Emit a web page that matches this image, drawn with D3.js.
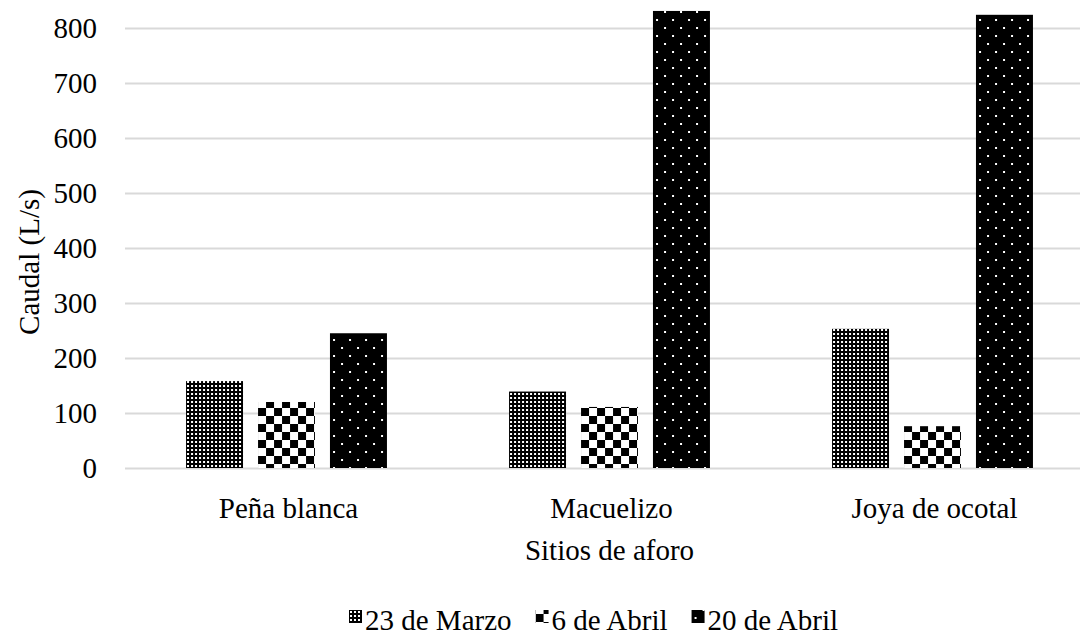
<!DOCTYPE html>
<html>
<head>
<meta charset="utf-8">
<script src="https://cdn.jsdelivr.net/npm/d3@7"></script>
<style>
  html, body { margin: 0; padding: 0; background: #fff; }
  svg { display: block; font-family: "Liberation Serif", "Times New Roman", serif; }
</style>
</head>
<body>
<svg id="chart" width="1080" height="638"></svg>
<script>
// Caudal medido en cada sitio de aforo (L/s)
const sites = ["Peña blanca", "Macuelizo", "Joya de ocotal"];
const dates = ["23 de Marzo", "6 de Abril", "20 de Abril"];
const marzo23 = [158, 139, 253];
const abril6 = [120, 111, 76];
const abril20 = [245, 831, 824];
const yTicks = [0, 100, 200, 300, 400, 500, 600, 700, 800];

const seriesValues = [marzo23, abril6, abril20];
const patternIds = ["pat-grid", "pat-checker", "pat-dots"];

const svg = d3.select("#chart");
const fontSize = 29;

// Relleno de tramas en blanco y negro
const defs = svg.append("defs");

const pGrid = defs.append("pattern").attr("id", "pat-grid")
  .attr("patternUnits", "userSpaceOnUse").attr("width", 4).attr("height", 4);
pGrid.append("rect").attr("width", 4).attr("height", 4).attr("fill", "#000");
pGrid.append("rect").attr("x", 1).attr("y", 1).attr("width", 2).attr("height", 2).attr("fill", "#fff");

const pChecker = defs.append("pattern").attr("id", "pat-checker")
  .attr("patternUnits", "userSpaceOnUse").attr("width", 16).attr("height", 16);
pChecker.append("rect").attr("width", 16).attr("height", 16).attr("fill", "#fff");
pChecker.append("rect").attr("x", 0).attr("y", 0).attr("width", 8).attr("height", 8).attr("fill", "#000");
pChecker.append("rect").attr("x", 8).attr("y", 8).attr("width", 8).attr("height", 8).attr("fill", "#000");

const pDots = defs.append("pattern").attr("id", "pat-dots")
  .attr("patternUnits", "userSpaceOnUse").attr("width", 16).attr("height", 16);
pDots.append("rect").attr("width", 16).attr("height", 16).attr("fill", "#000");
pDots.append("rect").attr("x", 3).attr("y", 3).attr("width", 2).attr("height", 2).attr("fill", "#fff");
pDots.append("rect").attr("x", 11).attr("y", 11).attr("width", 2).attr("height", 2).attr("fill", "#fff");

// Escalas
const plotLeft = 125, plotRight = 1094;
const y = d3.scaleLinear().domain([0, 800]).range([468, 28]);
const x0 = d3.scaleBand().domain(sites).range([plotLeft, plotRight])
  .paddingInner(0.378).paddingOuter(0.189);
const x1 = d3.scaleBand().domain(dates).range([0, x0.bandwidth()])
  .paddingInner(0.208).paddingOuter(0);

// Líneas de cuadrícula
const grid = svg.append("g")
  .attr("transform", `translate(${plotLeft},0)`)
  .call(d3.axisLeft(y).tickValues(yTicks).tickSize(-(1080 - plotLeft)).tickFormat(""));
grid.select(".domain").remove();
grid.selectAll(".tick line").attr("stroke", "#d9d9d9").attr("stroke-width", 2);

// Etiquetas del eje Y
const yAxis = svg.append("g")
  .attr("transform", `translate(${plotLeft},0)`)
  .call(d3.axisLeft(y).tickValues(yTicks).tickSize(0).tickPadding(28).tickFormat(d3.format("d")));
yAxis.select(".domain").remove();
yAxis.selectAll("text").attr("font-size", fontSize).attr("font-family", "Liberation Serif").attr("fill", "#000");

// Barras
const groups = svg.append("g").selectAll("g")
  .data(sites)
  .join("g")
  .attr("transform", d => `translate(${x0(d)},0)`);

groups.selectAll("rect")
  .data((site, i) => dates.map((date, s) => ({ date, s, value: seriesValues[s][i] })))
  .join("rect")
  .attr("x", d => x1(d.date))
  .attr("y", d => y(d.value))
  .attr("width", x1.bandwidth())
  .attr("height", d => y(0) - y(d.value))
  .attr("fill", d => `url(#${patternIds[d.s]})`);

// Etiquetas del eje X
svg.append("g").selectAll("text")
  .data(sites)
  .join("text")
  .attr("x", d => x0(d) + x0.bandwidth() / 2 + 2)
  .attr("y", 518)
  .attr("text-anchor", "middle")
  .attr("font-size", fontSize)
  .attr("fill", "#000")
  .text(d => d);

// Títulos de ejes
svg.append("text")
  .attr("x", x0(sites[1]) + x0.bandwidth() / 2)
  .attr("y", 560)
  .attr("text-anchor", "middle")
  .attr("font-size", fontSize)
  .attr("fill", "#000")
  .text("Sitios de aforo");

svg.append("text")
  .attr("transform", "translate(39,262) rotate(-90)")
  .attr("text-anchor", "middle")
  .attr("font-size", fontSize)
  .attr("fill", "#000")
  .text("Caudal (L/s)");

// Leyenda
const legendGap = 24;
const legend = svg.append("g");
let lx = 0;
const items = legend.selectAll("g")
  .data(dates)
  .join("g");
items.append("rect")
  .attr("y", -20).attr("width", 13).attr("height", 13)
  .attr("fill", (d, i) => `url(#${patternIds[i]})`);
items.append("text")
  .attr("x", 16)
  .attr("font-size", fontSize)
  .attr("fill", "#000")
  .text(d => d);
items.each(function () {
  const g = d3.select(this);
  g.attr("transform", `translate(${lx},0)`);
  lx += 16 + g.select("text").node().getComputedTextLength() + legendGap;
});
const legendWidth = lx - legendGap;
legend.attr("transform", `translate(${Math.round(594 - legendWidth / 2)},630)`);
</script>
</body>
</html>
